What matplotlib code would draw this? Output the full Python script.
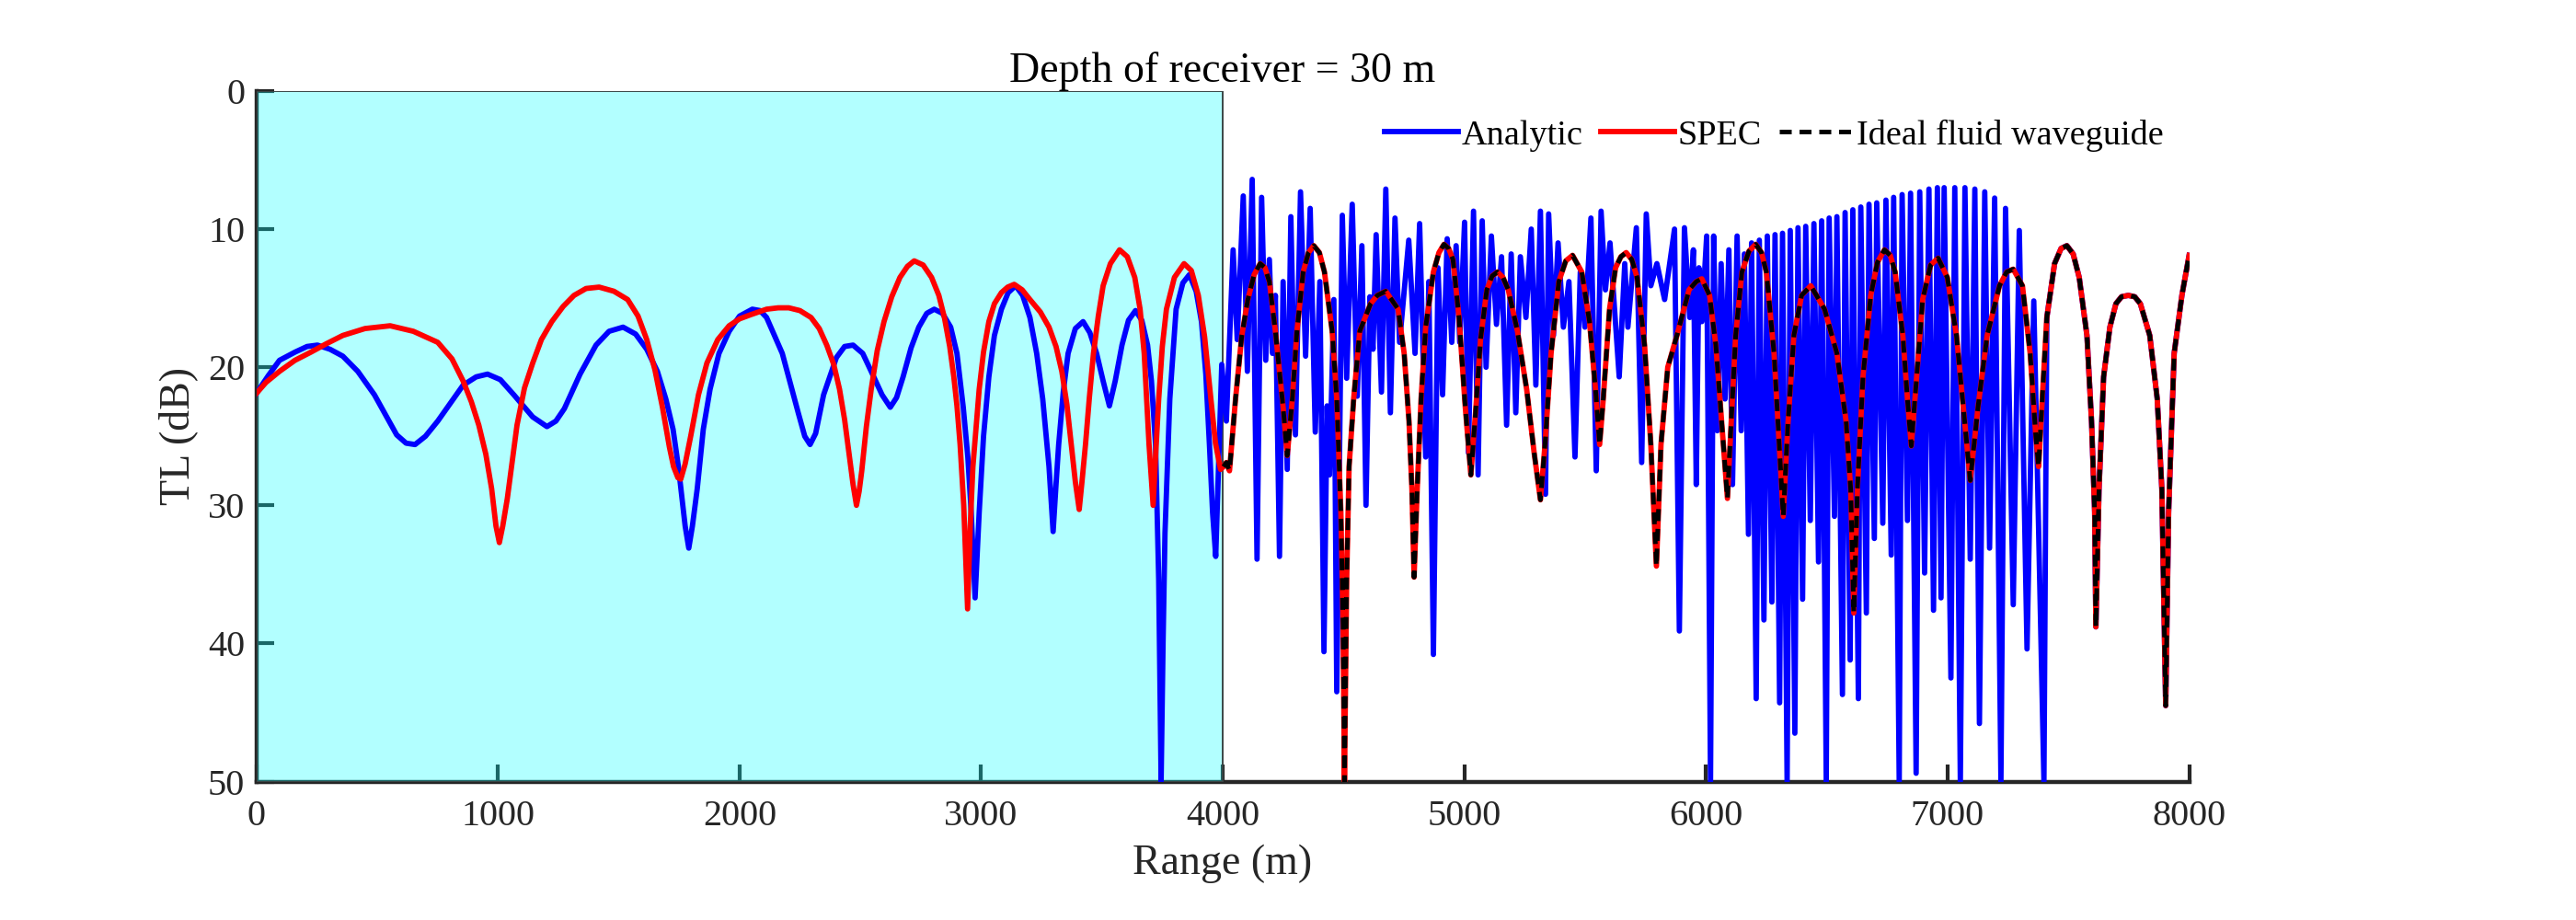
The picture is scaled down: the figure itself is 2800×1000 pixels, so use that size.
import matplotlib
matplotlib.use("Agg")
import matplotlib.pyplot as plt

plt.rcParams["font.family"] = ["Liberation Serif", "DejaVu Serif"]

# ─── Data (range in m, TL in dB) ─────────────────────────────────────────────
# Analytic solution, 0 - 7400 m (beyond that it lies under the SPEC curve)
analytic_r = [
    0, 50, 96, 161, 210, 253, 305, 358, 420, 489, 581, 620, 657, 700, 751, 856,
    910, 957, 1010, 1066, 1144, 1203, 1240, 1275, 1340, 1406, 1460, 1518, 1570,
    1616, 1660, 1695, 1725, 1747, 1775, 1790, 1805, 1825, 1850, 1878, 1915, 1957,
    2000, 2053, 2085, 2112, 2177, 2243, 2270, 2292, 2315, 2348, 2401, 2435, 2470,
    2510, 2545, 2590, 2624, 2650, 2677, 2710, 2742, 2775, 2806, 2840, 2874, 2900,
    2926, 2945, 2959, 2975, 2985, 2992, 3010, 3032, 3055, 3084, 3112, 3143, 3172,
    3202, 3230, 3255, 3281, 3298, 3310, 3321, 3340, 3360, 3390, 3422, 3450, 3478,
    3505, 3531, 3555, 3583, 3610, 3639, 3665, 3689, 3705, 3722, 3735, 3745, 3753,
    3761, 3781, 3807, 3835, 3862, 3890, 3912, 3930, 3945, 3958, 3971, 3996, 4015,
    4043, 4060, 4085, 4102, 4122, 4142, 4161, 4178, 4193, 4206, 4218, 4235, 4250,
    4267, 4282, 4301, 4322, 4343, 4362, 4383, 4402, 4419, 4432, 4442, 4460, 4472,
    4495, 4513, 4536, 4557, 4576, 4593, 4609, 4622, 4635, 4657, 4675, 4694, 4713,
    4732, 4770, 4796, 4815, 4840, 4853, 4872, 4891, 4910, 4929, 4948, 4966, 4981,
    5001, 5017, 5038, 5057, 5074, 5090, 5112, 5133, 5154, 5175, 5194, 5213, 5232,
    5255, 5277, 5296, 5315, 5336, 5349, 5369, 5388, 5410, 5433, 5458, 5480, 5499,
    5524, 5546, 5566, 5584, 5603, 5641, 5664, 5677, 5712, 5734, 5753, 5772, 5797,
    5829, 5870, 5890, 5911, 5933, 5948, 5960, 5971, 5983, 6003, 6019, 6032, 6047,
    6063, 6079, 6095, 6110, 6129, 6146, 6159, 6176, 6189, 6208, 6221, 6240, 6254,
    6273, 6286, 6305, 6317, 6336, 6349, 6368, 6381, 6400, 6413, 6432, 6447, 6466,
    6479, 6498, 6510, 6532, 6542, 6565, 6576, 6597, 6608, 6631, 6641, 6664, 6675,
    6697, 6707, 6732, 6745, 6767, 6777, 6800, 6812, 6834, 6847, 6870, 6885, 6905,
    6923, 6942, 6958, 6973, 6986, 7014, 7030, 7053, 7072, 7094, 7113, 7132, 7154,
    7174, 7195, 7221, 7240, 7272, 7297, 7329, 7357, 7399,
]
analytic_tl = [
    21.9, 20.6, 19.5, 18.9, 18.5, 18.4, 18.7, 19.2, 20.3, 22.0, 24.9, 25.5, 25.6,
    25.0, 23.9, 21.3, 20.7, 20.5, 20.9, 22.0, 23.6, 24.3, 23.9, 23.0, 20.5, 18.4,
    17.4, 17.1, 17.6, 18.7, 20.3, 22.3, 24.5, 27.2, 31.5, 33.1, 31.5, 28.8, 24.5,
    21.6, 19.0, 17.4, 16.3, 15.8, 15.9, 16.4, 19.0, 23.3, 25.0, 25.6, 24.8, 22.0,
    19.3, 18.5, 18.4, 19.0, 20.3, 22.0, 22.9, 22.2, 20.7, 18.6, 17.1, 16.1, 15.8,
    16.1, 17.1, 19.0, 22.9, 26.5, 30.5, 36.7, 33.0, 30.5, 25.0, 20.7, 17.7, 15.8,
    14.6, 14.1, 14.8, 16.4, 19.0, 22.3, 27.2, 31.9, 28.5, 25.6, 21.8, 19.0, 17.2,
    16.7, 17.5, 19.0, 21.0, 22.8, 21.0, 18.4, 16.6, 15.9, 16.6, 18.4, 21.0, 25.6,
    35.4, 50.0, 40.0, 32.0, 22.3, 15.8, 13.9, 13.3, 14.5, 16.7, 20.5, 25.6, 30.5,
    33.7, 19.8, 23.9, 11.5, 18.0, 7.6, 20.3, 6.4, 33.9, 7.7, 19.5, 12.2, 19.0,
    14.8, 33.7, 13.8, 27.4, 9.1, 24.9, 7.3, 19.2, 8.5, 24.7, 13.8, 40.6, 22.8,
    27.8, 15.1, 43.5, 9.0, 20.8, 8.2, 22.1, 11.2, 30.0, 14.9, 18.7, 10.4, 21.8,
    7.1, 23.3, 9.2, 18.2, 10.8, 19.0, 9.6, 26.5, 13.8, 40.8, 12.8, 22.0, 10.7,
    18.2, 11.2, 18.2, 9.5, 26.2, 8.7, 27.8, 9.4, 20.0, 10.5, 16.9, 12.0, 24.2,
    11.8, 23.3, 12.0, 16.4, 10.0, 21.3, 8.7, 29.2, 8.9, 17.7, 11.0, 17.1, 13.8,
    26.5, 13.1, 17.1, 9.2, 27.5, 8.7, 14.4, 11.0, 20.7, 12.5, 17.1, 9.9, 26.9,
    8.9, 14.1, 12.5, 15.1, 10.0, 39.1, 9.9, 16.4, 11.5, 28.5, 12.8, 16.7, 10.5,
    50.0, 10.5, 24.6, 12.5, 22.3, 11.5, 28.5, 10.5, 24.6, 11.8, 32.1, 11.0, 44.0,
    10.8, 38.3, 10.5, 37.0, 10.4, 44.3, 10.3, 50.0, 10.1, 46.5, 9.9, 36.8, 9.8,
    31.1, 9.6, 34.1, 9.4, 50.0, 9.2, 30.8, 9.1, 43.7, 8.8, 41.2, 8.6, 44.0, 8.4,
    37.8, 8.2, 32.4, 8.1, 31.3, 7.9, 33.6, 7.7, 50.0, 7.5, 31.1, 7.4, 49.4, 7.3,
    34.9, 7.1, 37.6, 7.0, 36.7, 7.0, 42.5, 7.0, 50.0, 7.0, 33.9, 7.1, 45.8, 7.3,
    33.1, 7.75, 50.0, 8.5, 37.2, 10.1, 40.4, 15.2, 50.0,
]

# SPEC inside the shaded zone, 0 - 4000 m
spec_r = [
    0, 40, 96, 160, 227, 290, 358, 450, 554, 650, 751, 810, 856, 890, 921, 950,
    974, 992, 1006, 1020, 1039, 1079, 1110, 1144, 1180, 1223, 1270, 1315, 1365,
    1419, 1480, 1537, 1580, 1616, 1650, 1681, 1710, 1727, 1745, 1757, 1775, 1799,
    1830, 1865, 1910, 1957, 2000, 2046, 2112, 2160, 2204, 2250, 2296, 2330, 2361,
    2390, 2414, 2435, 2453, 2470, 2484, 2495, 2506, 2525, 2545, 2570, 2598, 2630,
    2664, 2695, 2723, 2760, 2795, 2825, 2848, 2870, 2887, 2900, 2913, 2928, 2944,
    2955, 2966, 2992, 3010, 3032, 3055, 3084, 3110, 3137, 3170, 3202, 3245, 3281,
    3310, 3334, 3355, 3373, 3390, 3406, 3418, 3432, 3448, 3465, 3485, 3505, 3535,
    3573, 3605, 3636, 3658, 3675, 3695, 3712, 3722, 3735, 3750, 3767, 3800, 3840,
    3870, 3899, 3925, 3951, 3970, 3991,
]
spec_tl = [
    21.9, 21.1, 20.3, 19.5, 18.9, 18.3, 17.7, 17.2, 17.0, 17.4, 18.2, 19.4, 21.0,
    22.5, 24.2, 26.3, 28.8, 31.5, 32.7, 31.5, 29.5, 24.2, 21.5, 19.7, 18.0, 16.7,
    15.6, 14.8, 14.3, 14.2, 14.5, 15.1, 16.3, 18.0, 20.2, 22.9, 25.8, 27.2, 28.0,
    28.1, 27.0, 24.9, 22.0, 19.7, 18.0, 17.0, 16.5, 16.2, 15.8, 15.7, 15.7, 15.9,
    16.4, 17.2, 18.4, 19.8, 21.6, 23.8, 26.2, 28.5, 30.0, 29.0, 27.5, 24.3, 21.6,
    18.8, 16.7, 14.9, 13.5, 12.7, 12.3, 12.6, 13.5, 14.8, 16.4, 18.5, 20.7, 22.8,
    25.6, 30.0, 37.5, 31.5, 27.2, 21.6, 18.9, 16.7, 15.4, 14.6, 14.2, 14.0, 14.4,
    15.1, 16.0, 17.1, 18.5, 20.3, 22.7, 25.6, 28.3, 30.3, 28.2, 25.6, 22.2, 19.0,
    16.3, 14.1, 12.5, 11.5, 12.0, 13.5, 15.8, 19.0, 25.6, 30.0, 26.5, 22.3, 18.5,
    15.8, 13.5, 12.5, 13.0, 14.8, 17.8, 22.3, 25.5, 27.4,
]

# 4000 - 8000 m: SPEC and the ideal fluid waveguide lie on top of each other
guide_r = [
    4003, 4015, 4028, 4053, 4079, 4104, 4130, 4155, 4175, 4193, 4218, 4250, 4267,
    4288, 4307, 4333, 4355, 4377, 4400, 4421, 4453, 4472, 4489, 4498, 4504, 4513,
    4523, 4542, 4567, 4612, 4640, 4675, 4726, 4751, 4771, 4783, 4792, 4805, 4821,
    4840, 4872, 4895, 4916, 4935, 4953, 4978, 5004, 5027, 5048, 5067, 5093, 5115,
    5137, 5160, 5182, 5220, 5258, 5289, 5315, 5334, 5359, 5391, 5420, 5448, 5486,
    5518, 5543, 5560, 5575, 5601, 5626, 5648, 5670, 5693, 5715, 5746, 5772, 5795,
    5814, 5842, 5880, 5930, 5960, 5983, 6015, 6041, 6066, 6089, 6104, 6123, 6149,
    6178, 6206, 6230, 6250, 6282, 6301, 6320, 6339, 6364, 6396, 6434, 6491, 6542,
    6580, 6599, 6612, 6627, 6650, 6682, 6710, 6739, 6763, 6783, 6815, 6834, 6850,
    6872, 6897, 6930, 6961, 6999, 7037, 7062, 7094, 7126, 7164, 7215, 7245, 7272,
    7310, 7342, 7365, 7377, 7392, 7411, 7443, 7470, 7494, 7520, 7545, 7577, 7596,
    7609, 7614, 7627, 7646, 7672, 7697, 7720, 7748, 7775, 7798, 7837, 7868, 7887,
    7903, 7915, 7938, 7970, 8000,
]
guide_tl = [
    27.2, 26.9, 27.5, 22.3, 17.7, 15.1, 13.3, 12.5, 12.8, 13.8, 17.4, 22.9, 26.4,
    22.3, 17.4, 13.1, 11.7, 11.2, 11.7, 13.1, 17.4, 22.3, 30.5, 38.6, 50.0, 35.4,
    27.2, 22.3, 17.4, 15.4, 14.8, 14.5, 15.8, 19.0, 23.9, 28.8, 35.2, 28.8, 22.3,
    17.1, 13.1, 11.7, 11.1, 11.4, 12.2, 16.4, 22.9, 27.8, 22.9, 18.0, 14.4, 13.4,
    13.1, 13.5, 14.4, 17.4, 21.6, 26.2, 29.6, 25.6, 19.0, 13.8, 12.3, 11.9, 13.1,
    16.7, 21.6, 25.6, 22.3, 15.8, 12.8, 12.0, 11.7, 12.2, 13.5, 18.4, 25.6, 34.4,
    25.6, 20.0, 17.7, 14.4, 13.8, 13.6, 14.8, 18.4, 24.2, 29.5, 24.2, 17.7, 13.1,
    11.6, 11.1, 11.7, 13.1, 19.0, 24.9, 30.8, 24.2, 17.7, 14.8, 14.1, 15.8, 19.0,
    23.9, 28.8, 37.8, 28.8, 20.7, 14.8, 12.4, 11.5, 11.9, 13.1, 17.7, 22.3, 25.7,
    20.7, 15.1, 12.6, 12.1, 13.5, 17.7, 22.3, 28.2, 22.9, 17.7, 14.1, 13.1, 12.9,
    14.1, 19.0, 24.9, 27.2, 22.3, 16.4, 12.5, 11.4, 11.2, 11.8, 13.5, 17.7, 23.9,
    30.5, 38.8, 28.8, 20.7, 17.1, 15.4, 14.9, 14.8, 14.9, 15.4, 17.7, 22.3, 28.8,
    44.5, 30.5, 19.0, 14.8, 11.9,
]

range_ticks = [0, 1000, 2000, 3000, 4000, 5000, 6000, 7000, 8000]
tl_ticks = [0, 10, 20, 30, 40, 50]
shade_end = 4000

# ─── Figure ──────────────────────────────────────────────────────────────────
W, H = 2800, 1000
ink = "#262626"

fig = plt.figure(figsize=(W / 100, H / 100), dpi=100)
ax = fig.add_axes([278.6 / W, 1 - 849.5 / H, 2100.9 / W, 750.6 / H])

# shaded zone sits above the ticks, below the curves
ax.axvspan(0, shade_end, facecolor=(0, 1, 1, 0.3), edgecolor="#3b4646",
           linewidth=1.4, zorder=2.6)

# the analytic curve continues underneath the SPEC curve past its last spike
blue_r = analytic_r + [r for r in guide_r if r > analytic_r[-1]]
blue_tl = analytic_tl + [t for r, t in zip(guide_r, guide_tl) if r > analytic_r[-1]]

ax.plot(blue_r, blue_tl, color="blue", lw=4.2, label="Analytic", zorder=3)
ax.plot(spec_r + guide_r, spec_tl + guide_tl, color="red", lw=4.2,
        label="SPEC", zorder=4)
ax.plot(guide_r, guide_tl, color="black", lw=3.6, ls=(0, (2.6, 1.7)),
        label="Ideal fluid waveguide", zorder=5)

ax.set_xlim(0, 8000)
ax.set_ylim(50, 0)
ax.set_xticks(range_ticks)
ax.set_yticks(tl_ticks)

for side in ["top", "right"]:
    ax.spines[side].set_visible(False)
for side in ["left", "bottom"]:
    ax.spines[side].set_linewidth(3.2)
    ax.spines[side].set_color(ink)

ax.tick_params(direction="in", length=14, width=3.0, colors=ink, labelsize=29)
ax.tick_params(axis="x", pad=14)
ax.tick_params(axis="y", pad=9)

ax.set_xlabel("Range (m)", fontsize=33, color=ink, labelpad=8)
ax.set_ylabel("TL (dB)", fontsize=33, color=ink, labelpad=8)
ax.set_title("Depth of receiver = 30 m", fontsize=33, pad=3)

ax.legend(loc="center right", bbox_to_anchor=(2352 / W, 1 - 147 / H),
          bbox_transform=fig.transFigure, ncol=3, frameon=False, fontsize=27.5,
          handlelength=2.1, handletextpad=0.1, columnspacing=0.5,
          borderpad=0, borderaxespad=0)

fig.savefig("out.png", dpi=100)
